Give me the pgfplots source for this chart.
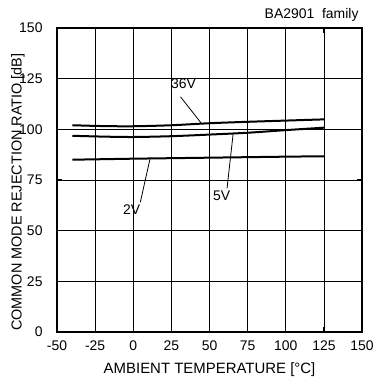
\documentclass[border=0pt]{standalone}
\usepackage{pgfplots}
\pgfplotsset{compat=1.18}
\usepackage{fontspec}
\setmainfont{Liberation Sans}

\begin{document}
\begin{tikzpicture}
\begin{axis}[
  scale only axis,
  width=305bp, height=304bp,
  xmin=-50, xmax=150, ymin=0, ymax=150,
  xtick={-50,-25,...,150},
  ytick={0,25,...,150},
  grid=major,
  grid style={black, line width=0.6bp},
  axis line style={line width=2.2bp},
  tick style={black, line width=1.2bp},
  major tick length=5bp,
  tick align=inside,
  font=\fontsize{14}{16}\selectfont,
  /pgf/number format/assume math mode=true,
  yticklabel style={xshift=-11bp},
  xticklabel style={yshift=-5bp},
  xlabel={AMBIENT TEMPERATURE [°C]},
  xlabel style={at={(rel axis cs:0.5,-0.125)}, anchor=center, font=\fontsize{15}{17}\selectfont},
  ylabel={COMMON MODE REJECTION RATIO [dB]},
  ylabel style={at={(rel axis cs:-0.128,0.46)}, anchor=center, font=\fontsize{14.5}{16}\selectfont},
  clip=false,
]
% 36V
\addplot[black, line width=2bp, smooth] coordinates {
  (-40,102) (-20,101.6) (0,101.5) (25,102) (50,103) (75,103.7) (100,104.3) (125,104.9)
};
% 5V
\addplot[black, line width=2bp, smooth] coordinates {
  (-40,96.8) (-20,96.4) (0,96.2) (25,96.6) (50,97.4) (75,98.3) (100,99.6) (125,100.8)
};
% 2V
\addplot[black, line width=2bp] coordinates {
  (-40,85) (0,85.5) (50,86) (100,86.5) (125,86.7)
};
% leader lines
\addplot[black, line width=0.8bp] coordinates {(31,116) (45,102.6)};
\addplot[black, line width=0.8bp] coordinates {(61.5,71) (65.5,98)};
\addplot[black, line width=0.8bp] coordinates {(4.6,64) (11,85.5)};
\node[anchor=center] at (axis cs:33,122.5) {36V};
\node[anchor=center] at (axis cs:58,67) {5V};
\node[anchor=center] at (axis cs:-1,60.5) {2V};
\node[anchor=east] at (rel axis cs:1,1.043) {BA2901\ \ family};
\path (rel axis cs:-0.187,-0.181) rectangle (rel axis cs:1.0295,1.092);
\end{axis}
\end{tikzpicture}
\end{document}
